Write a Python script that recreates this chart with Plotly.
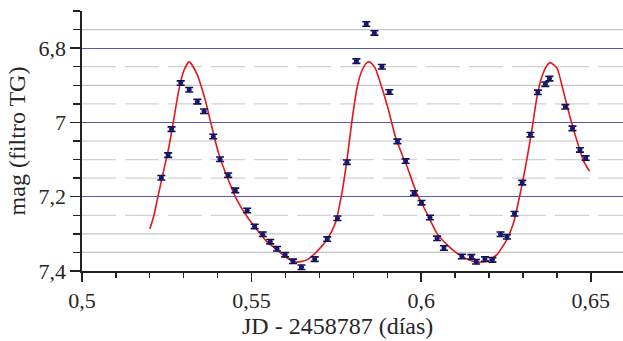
import plotly.graph_objects as go

# Observations (JD - 2458787) and magnitudes (TG filter)
jd = [0.5234, 0.5254, 0.5264, 0.5291, 0.5316, 0.5340, 0.5360, 0.5387, 0.5407, 0.5431,
      0.5452, 0.5487, 0.5509, 0.5533, 0.5555, 0.5575, 0.5599, 0.5622, 0.5647, 0.5686,
      0.5723, 0.5753, 0.5781, 0.5809, 0.5838, 0.5862, 0.5884, 0.5906, 0.5930, 0.5954,
      0.5979, 0.6001, 0.6026, 0.6047, 0.6067, 0.6120, 0.6148, 0.6162, 0.6188, 0.6210,
      0.6234, 0.6253, 0.6275, 0.6298, 0.6322, 0.6344, 0.6366, 0.6378, 0.6425, 0.6446,
      0.6468, 0.6485]
mag = [7.149, 7.088, 7.018, 6.894, 6.912, 6.944, 6.970, 7.038, 7.099, 7.142,
       7.183, 7.237, 7.280, 7.301, 7.321, 7.340, 7.356, 7.374, 7.390, 7.368,
       7.314, 7.258, 7.107, 6.835, 6.735, 6.759, 6.850, 6.918, 7.051, 7.104,
       7.190, 7.216, 7.256, 7.312, 7.338, 7.361, 7.362, 7.375, 7.368, 7.370,
       7.301, 7.308, 7.246, 7.162, 7.033, 6.919, 6.897, 6.882, 6.958, 7.016,
       7.074, 7.096]
mag_err = [0.006] * len(jd)

# Fit curve
fit_x = [0.5200, 0.5211, 0.5226, 0.5241, 0.5256, 0.5270, 0.5285, 0.5300, 0.5316, 0.5339,
         0.5364, 0.5383, 0.5403, 0.5428, 0.5457, 0.5487, 0.5516, 0.5545, 0.5575, 0.5604,
         0.5634, 0.5663, 0.5693, 0.5722, 0.5747, 0.5766, 0.5781, 0.5796, 0.5811, 0.5825,
         0.5840, 0.5848, 0.5864, 0.5884, 0.5904, 0.5923, 0.5943, 0.5958, 0.5987, 0.6017,
         0.6046, 0.6076, 0.6105, 0.6135, 0.6162, 0.6194, 0.6223, 0.6252, 0.6272, 0.6292,
         0.6311, 0.6326, 0.6341, 0.6355, 0.6370, 0.6380, 0.6400, 0.6419, 0.6439, 0.6459,
         0.6478, 0.6496]
fit_y = [7.287, 7.254, 7.191, 7.129, 7.067, 6.995, 6.915, 6.861, 6.837, 6.870,
         6.942, 7.013, 7.084, 7.147, 7.209, 7.254, 7.289, 7.321, 7.343, 7.365,
         7.376, 7.370, 7.347, 7.316, 7.271, 7.191, 7.102, 6.995, 6.906, 6.861,
         6.839, 6.837, 6.853, 6.906, 6.968, 7.035, 7.085, 7.118, 7.191, 7.245,
         7.298, 7.329, 7.352, 7.368, 7.376, 7.374, 7.356, 7.316, 7.271, 7.191,
         7.102, 7.022, 6.933, 6.879, 6.848, 6.839, 6.853, 6.915, 6.986, 7.049,
         7.102, 7.131]

# Secondary grid lines
grid_solid = [6.75, 6.90, 7.05, 7.30, 7.35]
grid_dashed = [6.85, 6.95, 7.10, 7.15, 7.25]

x_ticks = [0.5, 0.55, 0.6, 0.65]
y_ticks = [6.8, 7.0, 7.2, 7.4]

FONT = "Liberation Serif"
TXT = "#262626"

fig = go.Figure()

shapes = []
for v in grid_solid:
    shapes.append(dict(type="line", xref="paper", yref="y", x0=0, x1=1, y0=v, y1=v,
                       line=dict(color="#c4c4c4", width=1.2), layer="below"))
for v in grid_dashed:
    shapes.append(dict(type="line", xref="paper", yref="y", x0=0, x1=1, y0=v, y1=v,
                       line=dict(color="#d2d2d2", width=1.2, dash="34px,9px"), layer="below"))

fig.add_trace(go.Scatter(
    x=fit_x, y=fit_y, mode="lines",
    line=dict(color="#e3171c", width=1.6, shape="spline", smoothing=0.6),
    hoverinfo="skip", showlegend=False))

fig.add_trace(go.Scatter(
    x=jd, y=mag, mode="markers",
    marker=dict(symbol="circle", size=5, color="#16167a"),
    error_y=dict(type="data", array=mag_err, visible=True,
                 color="#10103a", thickness=1.6, width=4),
    showlegend=False))

fig.update_layout(
    width=623, height=341,
    margin=dict(l=82, r=0, t=11, b=70, autoexpand=False),
    paper_bgcolor="white", plot_bgcolor="white",
    separators=",.",
    shapes=shapes,
    font=dict(family=FONT, color=TXT, size=22),
    xaxis=dict(
        range=[0.5, 0.6595], tickvals=x_ticks, automargin=False,
        showgrid=False, zeroline=False,
        showline=True, linecolor="#222222", linewidth=1.6,
        ticks="outside", ticklen=9, tickwidth=1.5, tickcolor="#222222",
        minor=dict(dtick=0.01, tick0=0.5, ticks="outside", ticklen=5,
                   tickwidth=1.3, tickcolor="#222222", showgrid=False),
        tickfont=dict(family=FONT, size=22, color=TXT),
    ),
    yaxis=dict(
        range=[7.4, 6.7], tickvals=y_ticks, automargin=False,
        showgrid=True, gridcolor="#5858b8", gridwidth=1.2,
        zeroline=False,
        showline=True, linecolor="#222222", linewidth=1.6,
        ticks="outside", ticklen=10, tickwidth=1.5, tickcolor="#222222",
        minor=dict(dtick=0.05, tick0=6.7, ticks="outside", ticklen=7,
                   tickwidth=1.3, tickcolor="#222222", showgrid=False),
        tickfont=dict(family=FONT, size=22, color=TXT),
        title=dict(text="mag (filtro TG)", font=dict(family=FONT, size=24, color=TXT),
                   standoff=6),
    ),
    annotations=[dict(
        text="JD - 2458787 (días)", xref="paper", yref="paper",
        x=0.473, y=-0.212, xanchor="center", yanchor="middle", showarrow=False,
        font=dict(family=FONT, size=24, color=TXT))],
)

fig.write_html("out.html", config={"displayModeBar": False, "staticPlot": True},
               post_script="document.body.style.margin='0px';document.body.style.overflow='hidden';")
